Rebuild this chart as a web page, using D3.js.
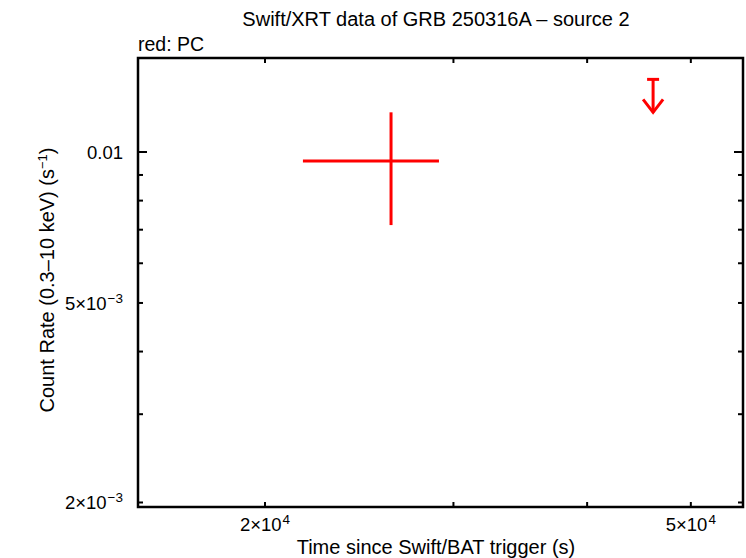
<!DOCTYPE html>
<html lang="en">
<head>
    <meta charset="UTF-8">
    <title>Swift/XRT light curve</title>
    <script src="https://d3js.org/d3.v7.min.js"></script>
    <style>
        body { margin: 0; background: #fff; }
        text {
            font-family: "Liberation Sans", Arial, sans-serif;
            fill: #000;
        }
    </style>
</head>
<body>
    <div id="chart"></div>
    <script>
        // PC mode detection: time (s), time errors, rate, rate errors
        const pcTime = [26230];
        const pcTimeLo = [21700];
        const pcTimeHi = [29080];
        const pcRate = [0.0096];
        const pcRateLo = [0.00715];
        const pcRateHi = [0.0120];

        // PC upper limit
        const ulTime = [46100];
        const ulRate = [0.01396];

        const xTickVals = [2e4, 3e4, 4e4, 5e4];
        const xTickLabels = {2e4: ["2\u00d710", "4"], 5e4: ["5\u00d710", "4"]};
        const yTickVals = [0.002, 0.003, 0.004, 0.005, 0.006, 0.007, 0.008, 0.009, 0.01];
        const yMajor = [0.01];
        const yTickLabels = {0.01: ["0.01", null], 0.005: ["5\u00d710", "\u22123"], 0.002: ["2\u00d710", "\u22123"]};

        const width = 746, height = 558;
        const margin = {left: 138, right: 3, top: 58, bottom: 51};

        const svg = d3.select("#chart").append("svg")
            .attr("width", width)
            .attr("height", height);

        const x = d3.scaleLog()
            .domain([15217, 55940])
            .range([margin.left, width - margin.right]);

        const y = d3.scaleLog()
            .domain([0.001959, 0.0154])
            .range([height - margin.bottom, margin.top]);

        const x0 = margin.left, x1 = width - margin.right;
        const y0 = height - margin.bottom, y1 = margin.top;

        // ticks on all four sides
        const ticks = svg.append("g").attr("stroke", "#000").attr("stroke-width", 2);
        xTickVals.forEach(v => {
            ticks.append("line").attr("x1", x(v)).attr("x2", x(v)).attr("y1", y0).attr("y2", y0 - 5);
            ticks.append("line").attr("x1", x(v)).attr("x2", x(v)).attr("y1", y1).attr("y2", y1 + 5);
        });
        yTickVals.forEach(v => {
            const len = yMajor.includes(v) ? 9 : 5;
            ticks.append("line").attr("x1", x0).attr("x2", x0 + len).attr("y1", y(v)).attr("y2", y(v));
            ticks.append("line").attr("x1", x1).attr("x2", x1 - len).attr("y1", y(v)).attr("y2", y(v));
        });

        // frame
        svg.append("rect")
            .attr("x", x0).attr("y", y1)
            .attr("width", x1 - x0).attr("height", y0 - y1)
            .attr("fill", "none").attr("stroke", "#000").attr("stroke-width", 2.5);

        function label(g, parts) {
            g.append("tspan").attr("font-size", 18.5).text(parts[0]);
            if (parts[1]) {
                g.append("tspan").attr("dx", 1).attr("dy", -7).attr("font-size", 13.5).text(parts[1]);
            }
        }

        Object.keys(xTickLabels).forEach(k => {
            const t = svg.append("text")
                .attr("x", x(+k)).attr("y", y0 + 24)
                .attr("text-anchor", "middle")
                .attr("font-size", 18.5);
            label(t, xTickLabels[k]);
        });

        Object.keys(yTickLabels).forEach(k => {
            const t = svg.append("text")
                .attr("x", x0 - 15).attr("y", y(+k) + 7)
                .attr("text-anchor", "end")
                .attr("font-size", 18.5);
            label(t, yTickLabels[k]);
        });

        // titles
        svg.append("text")
            .attr("x", 436).attr("y", 26)
            .attr("text-anchor", "middle")
            .attr("font-size", 20)
            .text("Swift/XRT data of GRB 250316A \u2013 source 2");

        svg.append("text")
            .attr("x", x0).attr("y", 51)
            .attr("font-size", 19.5)
            .text("red: PC");

        svg.append("text")
            .attr("x", 436).attr("y", 554)
            .attr("text-anchor", "middle")
            .attr("font-size", 20)
            .text("Time since Swift/BAT trigger (s)");

        const yl = svg.append("text")
            .attr("transform", "translate(54," + 280 + ") rotate(-90)")
            .attr("text-anchor", "middle")
            .attr("font-size", 20);
        yl.append("tspan").text("Count Rate (0.3\u201310 keV) (s");
        yl.append("tspan").attr("dy", -7).attr("font-size", 13).text("\u22121");
        yl.append("tspan").attr("dy", 7).text(")");

        // data
        const red = "#ff0000";
        const pts = svg.append("g").attr("stroke", red).attr("stroke-width", 3).attr("fill", "none");
        pcTime.forEach((t, i) => {
            pts.append("line")
                .attr("x1", x(pcTimeLo[i])).attr("x2", x(pcTimeHi[i]))
                .attr("y1", y(pcRate[i])).attr("y2", y(pcRate[i]));
            pts.append("line")
                .attr("x1", x(t)).attr("x2", x(t))
                .attr("y1", y(pcRateLo[i])).attr("y2", y(pcRateHi[i]));
        });

        ulTime.forEach((t, i) => {
            const cx = x(t), cy = y(ulRate[i]);
            const tip = cy + 33;
            pts.append("line").attr("x1", cx - 6).attr("x2", cx + 6).attr("y1", cy).attr("y2", cy);
            pts.append("line").attr("x1", cx).attr("x2", cx).attr("y1", cy).attr("y2", tip);
            pts.append("path").attr("d", `M${cx - 10},${tip - 13}L${cx},${tip}L${cx + 10},${tip - 13}`);
        });
    </script>
</body>
</html>
